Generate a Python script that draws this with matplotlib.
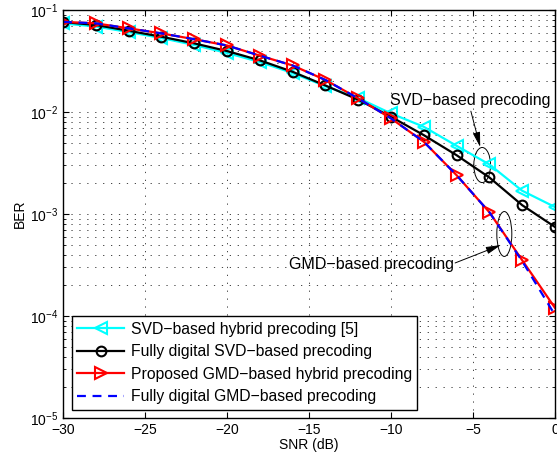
import numpy as np
import matplotlib.pyplot as plt
from matplotlib.patches import Ellipse

plt.rcParams['font.family'] = ['Liberation Sans', 'DejaVu Sans']
plt.rcParams['mathtext.fontset'] = 'custom'
plt.rcParams['mathtext.rm'] = 'Liberation Sans'
plt.rcParams['mathtext.it'] = 'Liberation Sans:italic'

# ==============================
# Data
# ==============================
snr = [-30, -28, -26, -24, -22, -20, -18, -16, -14, -12, -10, -8, -6, -4, -2, 0]

ber_svd_hybrid = [0.0738, 0.0689, 0.0608, 0.0531, 0.0454, 0.0379, 0.0309, 0.0241,
                  0.0179, 0.0137, 0.00968, 0.00716, 0.00466, 0.00306, 0.00169, 0.00117]
ber_svd_digital = [0.0762, 0.0713, 0.0626, 0.0547, 0.0471, 0.0396, 0.0321, 0.0248,
                   0.0182, 0.0132, 0.00898, 0.00593, 0.00377, 0.00228, 0.00122, 0.000746]
ber_gmd_hybrid = [0.0765, 0.0740, 0.0661, 0.0590, 0.0517, 0.0449, 0.0357, 0.0286,
                  0.0206, 0.0136, 0.00865, 0.00511, 0.00240, 0.00104, 0.000352, 0.000120]
ber_gmd_digital = [0.0765, 0.0740, 0.0661, 0.0590, 0.0517, 0.0449, 0.0357, 0.0286,
                   0.0206, 0.0136, 0.00865, 0.00511, 0.00240, 0.00104, 0.000345, 0.000102]

labels = ['SVD\u2212based hybrid precoding [5]',
          'Fully digital SVD\u2212based precoding',
          'Proposed GMD\u2212based hybrid precoding',
          'Fully digital GMD\u2212based precoding']

# ==============================
# Plot
# ==============================
fig = plt.figure(figsize=(5.57, 4.61), dpi=100)
ax = fig.add_axes([0.1131, 0.0933, 0.8833, 0.885])

ax.semilogy(snr, ber_svd_hybrid, color='#00FFFF', marker='<', ms=8, mfc='none', mew=1.5,
            lw=1.6, label=labels[0])
ax.semilogy(snr, ber_svd_digital, color='k', marker='o', ms=7, mfc='none', mew=1.5,
            lw=1.6, label=labels[1])
ax.semilogy(snr, ber_gmd_hybrid, color='#FF0000', marker='>', ms=8, mfc='none', mew=1.5,
            lw=1.6, label=labels[2])
ax.semilogy(snr, ber_gmd_digital, color='#0000FF', ls='--', lw=1.6, dashes=(4, 3),
            label=labels[3])

ax.set_xlim(-30, 0)
ax.set_ylim(1e-5, 1e-1)
ax.set_xticks([-30, -25, -20, -15, -10, -5, 0])
ax.set_xlabel('SNR (dB)', fontsize=10, labelpad=1)
ax.set_ylabel('BER', fontsize=10, labelpad=2)
ax.tick_params(which='both', direction='in', top=True, right=True, labelsize=10)
ax.tick_params(which='major', length=4)
ax.tick_params(which='minor', length=2)
for s in ax.spines.values():
    s.set_linewidth(1.0)

grid_style = dict(ls=(0, (1.5, 8)), color='0.15', lw=0.6)
ax.grid(True, which='major', axis='both', **grid_style)
ax.grid(True, which='minor', axis='y', **grid_style)

leg = ax.legend(loc='lower left', bbox_to_anchor=(0.018, 0.02), borderaxespad=0,
                fontsize=11.3, fancybox=False, framealpha=1, edgecolor='k',
                handlelength=3.0, labelspacing=0.48, borderpad=0.35, handletextpad=0.4)
leg.get_frame().set_linewidth(1.0)

# annotations
ax.text(0.665, 0.779, 'SVD\u2212based precoding', transform=ax.transAxes,
        fontsize=11.5, ha='left', va='center')
ax.add_patch(Ellipse((0.852, 0.620), 0.034, 0.086, transform=ax.transAxes,
                     fill=False, ec='k', lw=0.7))
ax.annotate('', xy=(0.848, 0.664), xytext=(0.829, 0.752), xycoords='axes fraction',
            arrowprops=dict(arrowstyle='-|>,head_length=0.9,head_width=0.22',
                            color='k', lw=0.7, shrinkA=0, shrinkB=0))

ax.text(0.795, 0.377, 'GMD\u2212based precoding', transform=ax.transAxes,
        fontsize=11.5, ha='right', va='center')
ax.add_patch(Ellipse((0.897, 0.451), 0.0305, 0.110, transform=ax.transAxes,
                     fill=False, ec='k', lw=0.7))
ax.annotate('', xy=(0.890, 0.424), xytext=(0.797, 0.380), xycoords='axes fraction',
            arrowprops=dict(arrowstyle='-|>,head_length=0.9,head_width=0.22',
                            color='k', lw=0.7, shrinkA=0, shrinkB=0))

fig.savefig('out.png', dpi=100)
